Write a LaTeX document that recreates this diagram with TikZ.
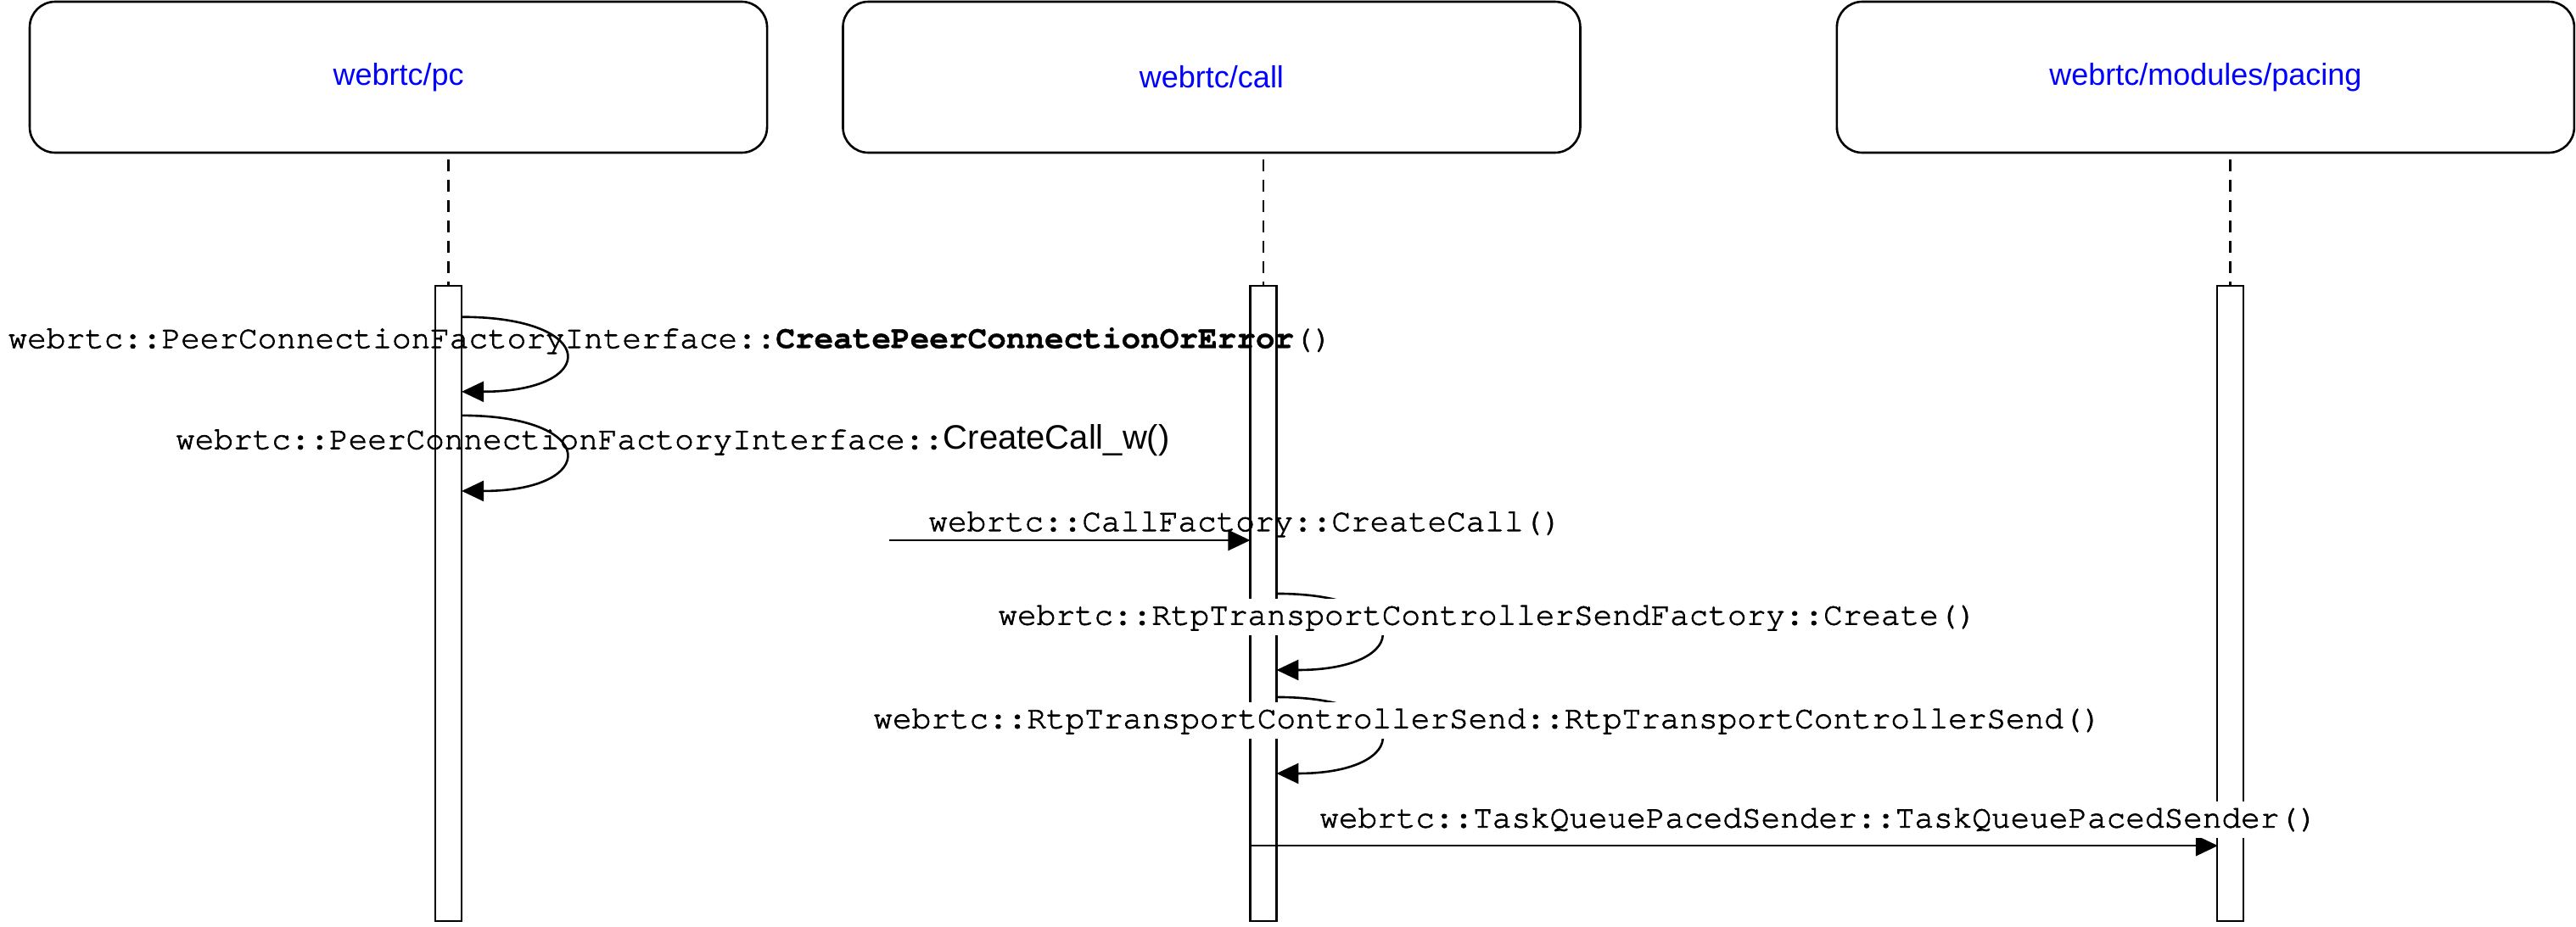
\documentclass[tikz,border=0pt]{standalone}
\usepackage{fontspec}
\setmainfont{Liberation Sans}
\setmonofont{TeX Gyre Cursor}[UprightFeatures={FakeBold=2}, BoldFeatures={FakeBold=1}]
\usetikzlibrary{arrows.meta}
\begin{document}
\begin{tikzpicture}[x=1.9362pt,y=-1.9362pt,
  headbox/.style={draw, line width=2.6pt, rounded corners=30pt, minimum width=869pt, minimum height=178pt, font=\fontsize{36}{40}\selectfont, text=blue, inner sep=0pt},
  actbar/.style={draw, fill=white, line width=2.4pt, minimum width=31pt, minimum height=749pt, inner sep=0pt},
  life/.style={line width=2.2pt, dash pattern=on 14pt off 10pt},
  msg/.style={line width=2.6pt, -{Triangle[length=26pt,width=24pt]}},
  lbl/.style={font=\fontsize{37.7}{40}\selectfont\ttfamily, inner sep=0pt, text height=28pt, text depth=9pt},
  lblbg/.style={lbl, fill=white, inner sep=3pt}
]
\useasboundingbox (0,0) rectangle (1568,564);

% participants
\node[headbox] (pc) at (242.5,47) {webrtc/pc};
\node[headbox] (call) at (737.5,47) {webrtc/call};
\node[headbox] (pacing) at (1342.5,47) {webrtc/modules/pacing};

% lifeline tops
\coordinate (pcl) at (273,97);
\coordinate (calll) at (769,97);
\coordinate (pacl) at (1357.5,97);

% activation bars
\node[actbar] (pcbar) at (273,367.5) {};
\node[actbar] (callbar) at (769,367.5) {};
\node[actbar] (pacbar) at (1357.5,367.5) {};

\draw[life] (pcl) -- (pcbar.north);
\draw[life] (calll) -- (callbar.north);
\draw[life] (pacl) -- (pacbar.north);

% message end points
\coordinate (s1) at (281,193);
\coordinate (e1) at (281,238.5);
\coordinate (s2) at (281,253);
\coordinate (e2) at (281,299);
\coordinate (src3) at (541,329);
\coordinate (e3) at (761,329);
\coordinate (s4) at (777,361.5);
\coordinate (e4) at (777,408);
\coordinate (s5) at (777,424.5);
\coordinate (e5) at (777,471);
\coordinate (s6) at (761,515);
\coordinate (e6) at (1350,515);

\draw[msg] (s1) .. controls +(84,0) and +(84,0) .. (e1);
\draw[msg] (s2) .. controls +(84,0) and +(84,0) .. (e2);
\draw[msg] (src3) -- (e3);
\draw[msg] (s4) .. controls +(84,0) and +(84,0) .. (e4);
\draw[msg] (s5) .. controls +(84,0) and +(84,0) .. (e5);
\draw[msg] (s6) -- (e6);

% labels
\node[lbl] (l1) at (408,207) {webrtc::PeerConnectionFactoryInterface::\textbf{CreatePeerConnectionOrError}()};
\node[lbl] (l2) at (409.5,268.5) {webrtc::PeerConnectionFactoryInterface::{\rmfamily\fontsize{40}{40}\selectfont CreateCall\_w()}};
\node[lbl] (l3) at (758,318.5) {webrtc::CallFactory::CreateCall()};
\node[lblbg] (l4) at (905.5,375.5) {webrtc::RtpTransportControllerSendFactory::Create()};
\node[lblbg] (l5) at (905.5,438.5) {webrtc::RtpTransportControllerSend::RtpTransportControllerSend()};
\node[lblbg] (l6) at (1107,499) {webrtc::TaskQueuePacedSender::TaskQueuePacedSender()};
\end{tikzpicture}
\end{document}
